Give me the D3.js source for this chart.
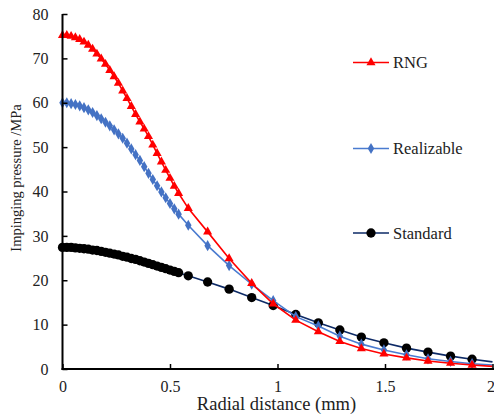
<!DOCTYPE html>
<html><head><meta charset="utf-8">
<script src="https://cdn.jsdelivr.net/npm/d3@7/dist/d3.min.js"></script>
<style>body{margin:0;background:#fff}svg{display:block}
text{font-family:"Liberation Serif","Times New Roman",Times,Tinos,"Noto Serif","DejaVu Serif",FreeSerif,serif;}</style>
</head><body><svg id="c" width="494" height="418"></svg>
<script>
const radial = [0,0.02,0.04,0.06,0.08,0.10,0.12,0.14,0.16,0.18,0.20,0.22,0.24,0.26,0.28,0.30,0.32,0.34,0.36,0.38,0.40,0.42,0.44,0.46,0.48,0.50,0.52,0.54,
  0.585,0.675,0.775,0.88,0.98,1.085,1.19,1.29,1.39,1.495,1.6,1.7,1.805,1.905,2.0];
const rng = [75.2,75.2,75.0,74.7,74.3,73.7,73.0,72.1,71.0,69.9,68.7,67.3,65.9,64.4,62.7,61.0,59.2,57.4,55.7,54.1,52.4,50.5,48.6,46.7,44.8,43.0,41.2,39.6,
  36.2,30.9,24.9,19.3,14.7,11.0,8.4,6.2,4.6,3.4,2.5,1.8,1.3,0.9,0.6];
const realizable = [60.0,60.0,59.8,59.6,59.3,58.9,58.4,57.8,57.1,56.4,55.6,54.8,53.9,53.0,52.0,50.9,49.6,48.3,47.0,45.6,44.1,42.7,41.3,39.9,38.6,37.3,36.1,34.9,
  32.4,27.8,23.3,19.1,15.4,11.8,9.7,7.4,5.6,4.3,3.2,2.3,1.7,1.2,0.9];
const standard = [27.4,27.4,27.4,27.3,27.2,27.1,27.0,26.8,26.7,26.5,26.3,26.1,25.9,25.7,25.4,25.2,24.9,24.7,24.4,24.1,23.8,23.5,23.2,22.9,22.6,22.3,22.0,21.7,
  21.0,19.6,18.0,16.1,14.3,12.3,10.4,8.8,7.2,5.9,4.7,3.8,2.9,2.2,1.6];
const seriesNames = ["RNG","Realizable","Standard"];
const xTicks = [0,0.5,1,1.5,2];
const yTicks = [0,10,20,30,40,50,60,70,80];

const FONT = '"Liberation Serif","Times New Roman",Times,Tinos,"Noto Serif","DejaVu Serif",FreeSerif,serif';
const svg = d3.select("#c");
const L = 62.5, R = 492.5, T = 14, B = 369;
const x = d3.scaleLinear().domain([0,2]).range([L,R]);
const y = d3.scaleLinear().domain([0,80]).range([B,T]);

const series = [
  {name:seriesNames[0], vals:rng, line:"#ff0000", fill:"#ff0000", shape:d3.symbolTriangle, size:36, ly:62.5},
  {name:seriesNames[1], vals:realizable, line:"#4a7bd0", fill:"#4472c4", shape:d3.symbolDiamond, size:36, ly:148.5},
  {name:seriesNames[2], vals:standard, line:"#0d2a66", fill:"#000000", shape:d3.symbolCircle, size:68, ly:233}
];

const line = d3.line().x(d=>x(d[0])).y(d=>y(d[1]));
const order = [2,1,0];
order.forEach(i=>{
  const s = series[i];
  const pts = radial.map((r,k)=>[r,s.vals[k]]);
  svg.append("path").attr("d", line(pts)).attr("fill","none").attr("stroke", s.line).attr("stroke-width",1.6);
  svg.append("g").selectAll("path").data(pts.filter(p=>p[0]<1.95)).join("path")
    .attr("d", d3.symbol().type(s.shape).size(s.size))
    .attr("transform", p=>`translate(${x(p[0])},${y(p[1])})`)
    .attr("fill", s.fill);
});

const xAxis = d3.axisBottom(x).tickValues(xTicks).tickSize(-5).tickPadding(12).tickFormat(d=>d);
const gx = svg.append("g").attr("transform",`translate(0,${B})`).call(xAxis);
const yAxis = d3.axisLeft(y).tickValues(yTicks).tickSize(-5).tickPadding(14).tickFormat(d=>d);
const gy = svg.append("g").attr("transform",`translate(${L},0)`).call(yAxis);
[gx,gy].forEach(g=>{
  g.attr("font-family",FONT).attr("font-size",16);
  g.select(".domain").attr("stroke","#000").attr("stroke-width",2);
  g.selectAll(".tick line").attr("stroke","#000").attr("stroke-width",1.5);
  g.selectAll(".tick text").attr("fill","#222");
});
gx.select(".domain").attr("d",`M${L-1},0H${R+2}`);
gy.select(".domain").attr("d",`M0,${T}V${B+1}`);
gx.selectAll(".tick text").filter(d=>d===2).attr("text-anchor","end").attr("dx",2);

svg.append("text").attr("x",(L+R)/2-1).attr("y",410).attr("text-anchor","middle")
  .style("font-size","18.5px").attr("fill","#222").text("Radial distance (mm)");
svg.append("text").attr("transform","translate(21,178) rotate(-90)").attr("text-anchor","middle")
  .style("font-size","14.5px").attr("fill","#222").text("Impinging pressure /MPa");

series.forEach(s=>{
  const g = svg.append("g");
  g.append("line").attr("x1",353).attr("x2",389).attr("y1",s.ly).attr("y2",s.ly).attr("stroke",s.line).attr("stroke-width",1.6);
  g.append("path").attr("d",d3.symbol().type(s.shape).size(s.size)).attr("transform",`translate(371,${s.ly})`).attr("fill",s.fill);
  g.append("text").attr("x",393).attr("y",s.ly).attr("dy","0.35em").style("font-size","16.5px").attr("fill","#222").text(s.name);
});
</script></body></html>
